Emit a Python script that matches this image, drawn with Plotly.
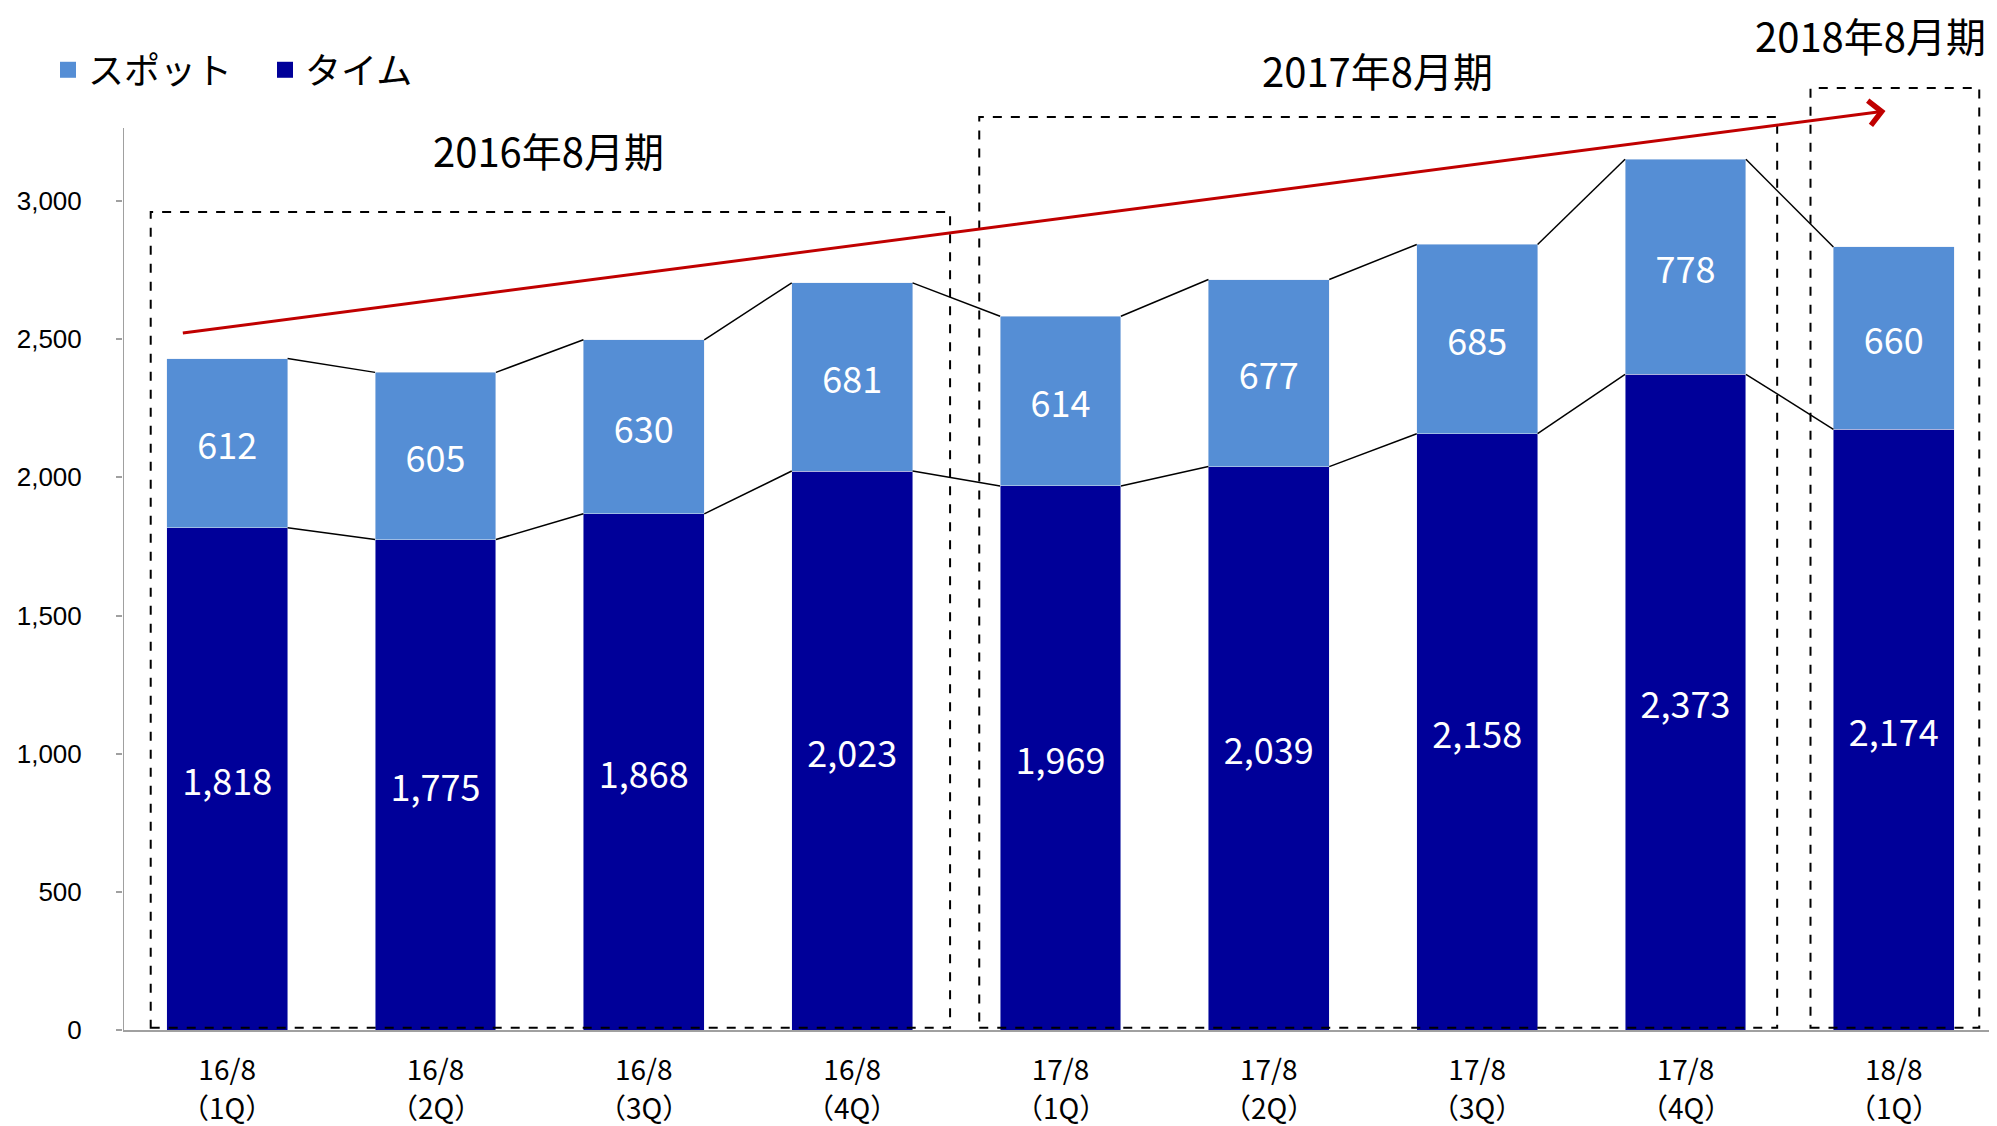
import plotly.graph_objects as go

# ---- data ----
periods = ["16/8", "16/8", "16/8", "16/8", "17/8", "17/8", "17/8", "17/8", "18/8"]
quarters = ["1Q", "2Q", "3Q", "4Q", "1Q", "2Q", "3Q", "4Q", "1Q"]
time_vals = [1818, 1775, 1868, 2023, 1969, 2039, 2158, 2373, 2174]
spot_vals = [612, 605, 630, 681, 614, 677, 685, 778, 660]
series_names = ["スポット", "タイム"]
group_titles = ["2016年8月期", "2017年8月期", "2018年8月期"]
y_tick_vals = [0, 500, 1000, 1500, 2000, 2500, 3000]

COL_SPOT = "#558ED5"
COL_TIME = "#000099"
JP = "Noto Sans CJK JP"
YMAX = 3420

n = len(periods)
xs = list(range(n))
totals = [t + s for t, s in zip(time_vals, spot_vals)]
BW = 0.58

fig = go.Figure()
fig.add_trace(go.Bar(
    x=xs, y=time_vals, name=series_names[1], marker_color=COL_TIME, width=BW,
    text=[f"{v:,}" for v in time_vals], textposition="inside", insidetextanchor="middle",
    textfont=dict(color="white", size=36, family=JP), showlegend=False,
    constraintext="none", textangle=0,
))
fig.add_trace(go.Bar(
    x=xs, y=spot_vals, name=series_names[0], marker_color=COL_SPOT, width=BW,
    text=[f"{v:,}" for v in spot_vals], textposition="inside", insidetextanchor="middle",
    textfont=dict(color="white", size=36, family=JP), showlegend=False,
    constraintext="none", textangle=0,
))
# legend entries (square markers)
for nm, col in [(series_names[0], COL_SPOT), (series_names[1], COL_TIME)]:
    fig.add_trace(go.Scatter(x=[None], y=[None], mode="markers", name=nm,
                             marker=dict(symbol="square", size=16, color=col)))

shapes = []
# connecting lines between bars
for i in range(n - 1):
    for arr in (totals, time_vals):
        shapes.append(dict(type="line", xref="x", yref="y",
                           x0=xs[i] + BW / 2, y0=arr[i], x1=xs[i + 1] - BW / 2, y1=arr[i + 1],
                           line=dict(color="black", width=1.5)))
# dashed group boxes
boxes = [(xs[0] - 0.367, xs[3] + 0.47, 2960), (xs[4] - 0.39, xs[7] + 0.44, 3304), (xs[8] - 0.40, xs[8] + 0.41, 3409)]
for x0, x1, top in boxes:
    shapes.append(dict(type="rect", xref="x", yref="y", x0=x0, x1=x1, y0=8, y1=top,
                       line=dict(color="black", width=2, dash="dash"), fillcolor="rgba(0,0,0,0)"))
# y axis line (stops below group title area)
shapes.append(dict(type="line", xref="x", yref="y", x0=-0.5, x1=-0.5, y0=0, y1=3264,
                   line=dict(color="#A0A0A0", width=2)))

annotations = [
    dict(x=1.54, y=3185 / YMAX, xref="x", yref="paper", text=group_titles[0], showarrow=False,
         xanchor="center", yanchor="middle", font=dict(size=40, family=JP, color="black")),
    dict(x=5.52, y=3474 / YMAX, xref="x", yref="paper", text=group_titles[1], showarrow=False,
         xanchor="center", yanchor="middle", font=dict(size=40, family=JP, color="black")),
    dict(x=1.0, y=3623 / YMAX, xref="paper", yref="paper", text=group_titles[2], showarrow=False,
         xanchor="right", yanchor="middle", xshift=-10, yshift=-6,
         font=dict(size=40, family=JP, color="black")),
    dict(x=7.96, y=3326, ax=-0.22, ay=2522, xref="x", yref="y", axref="x", ayref="y",
         text="", showarrow=True, arrowhead=4, arrowsize=1.6, arrowwidth=3, arrowcolor="#C00000"),
]
# second line of the category labels (quarter)
for xi, q in zip(xs, quarters):
    annotations.append(dict(x=xi, y=-0.081, xref="x", yref="paper", text=f"（{q}）",
                            showarrow=False, xanchor="center", yanchor="middle",
                            font=dict(size=28, family=JP, color="black")))

fig.update_layout(
    width=1997, height=1126,
    barmode="stack", bargap=0.42,
    plot_bgcolor="white", paper_bgcolor="white",
    margin=dict(l=115, r=7, t=77, b=104, autoexpand=False),
    shapes=shapes, annotations=annotations,
    legend=dict(orientation="h", x=-0.040, y=1.016, xanchor="left", yanchor="middle",
                font=dict(size=36, family=JP, color="black"), bgcolor="rgba(0,0,0,0)",
                traceorder="normal", entrywidth=172, entrywidthmode="pixels"),
    xaxis=dict(range=[-0.5, n - 0.5], tickvals=xs, ticktext=periods,
               showline=True, linecolor="#A0A0A0", linewidth=2, ticks="",
               tickfont=dict(size=28, family=JP, color="black"), ticklabelstandoff=14,
               showgrid=False, zeroline=False, automargin=False),
    yaxis=dict(range=[0, YMAX], tickvals=y_tick_vals, tickformat=",",
               showline=False, ticks="outside", ticklen=6, tickcolor="#A0A0A0", tickwidth=2,
               tickfont=dict(size=26, family="Liberation Sans", color="black"),
               ticklabelstandoff=29, showgrid=False, zeroline=False, automargin=False),
)

fig.write_html("out.html")
